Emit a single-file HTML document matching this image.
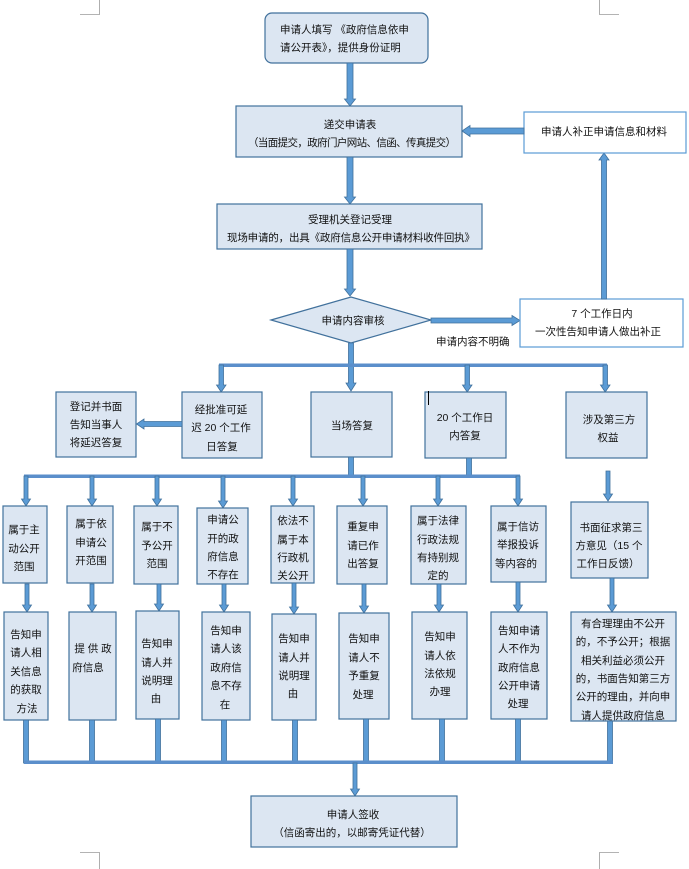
<!DOCTYPE html>
<html><head><meta charset="utf-8">
<style>
html,body{margin:0;padding:0;background:#fff;}
svg{display:block;}
text{font-family:"Liberation Sans","Noto Sans CJK SC",sans-serif;font-size:10.5px;fill:#111;}
.b{fill:#dce6f2;stroke:#41719c;stroke-width:1.2;}
.w{fill:#fff;stroke:#5b9bd5;stroke-width:1.2;}
.a{fill:#5b9bd5;stroke:#41719c;stroke-width:0.8;}
.l{fill:#5b8fcb;}
.c{stroke:#9a9a9a;stroke-width:0.8;fill:none;}
</style></head>
<body>
<svg width="689" height="869" viewBox="0 0 689 869" xmlns="http://www.w3.org/2000/svg">
<!-- crop marks -->
<path class="c" d="M80 14.5H99.5V0M599.5 0V14.5H619M80 852.5H99.5V869M599.5 869V852.5H619"/>

<!-- top box -->
<rect class="b" x="265" y="13" width="163" height="50" rx="7"/>
<text x="280" y="33">申请人填写 《政府信息依申</text>
<text x="280" y="51">请公开表》，提供身份证明</text>

<!-- arrow 1 -->
<polygon class="a" points="347,63 353,63 353,99 355.5,99 350,106 344.5,99 347,99"/>

<!-- box 2 -->
<rect class="b" x="236" y="106" width="226" height="51"/>
<text x="350" y="128" text-anchor="middle">递交申请表</text>
<text x="352" y="146" text-anchor="middle" textLength="208">（当面提交，政府门户网站、信函、传真提交）</text>

<!-- arrow 2 -->
<polygon class="a" points="347,157 353,157 353,197 355.5,197 350,204 344.5,197 347,197"/>

<!-- box 3 -->
<rect class="b" x="217" y="204" width="265" height="45"/>
<text x="350" y="223" text-anchor="middle">受理机关登记受理</text>
<text x="351" y="241" text-anchor="middle" textLength="248">现场申请的，出具《政府信息公开申请材料收件回执》</text>

<!-- arrow 3 -->
<polygon class="a" points="347,249 353,249 353,289 355.5,289 350,296 344.5,289 347,289"/>

<!-- diamond -->
<polygon class="b" points="271,320 351,297 431,320 351,343"/>
<text x="353" y="324" text-anchor="middle">申请内容审核</text>

<!-- right arrow to 7 days box -->
<polygon class="a" points="431,318 512,318 512,315.5 520,320.5 512,325.5 512,323 431,323"/>
<text x="436" y="345">申请内容不明确</text>

<!-- 7 day box -->
<rect class="w" x="520" y="299" width="163" height="48"/>
<text x="602" y="317" text-anchor="middle">7 个工作日内</text>
<text x="598" y="335" text-anchor="middle">一次性告知申请人做出补正</text>

<!-- up arrow -->
<polygon class="a" points="601.5,299 606.5,299 606.5,160 609,160 604,153 599,160 601.5,160"/>

<!-- 补正 box -->
<rect class="w" x="524" y="112" width="162" height="41"/>
<text x="604" y="135" text-anchor="middle">申请人补正申请信息和材料</text>

<!-- left arrow to box 2 -->
<polygon class="a" points="524,128 470,128 470,125.5 462,131 470,136.5 470,134 524,134"/>

<!-- diamond down arrow -->
<polygon class="a" points="348.5,343 353.5,343 353.5,383 356,383 351,391 346,383 348.5,383"/>

<!-- bus 1 -->
<rect class="l" x="219" y="363.5" width="388" height="3.5"/>
<polygon class="a" points="219,365 223.5,365 223.5,385 226,385 221.2,392 216.5,385 219,385"/>
<polygon class="a" points="465,365 469.5,365 469.5,385 472,385 467.2,392 462.5,385 465,385"/>
<polygon class="a" points="603,365 607.5,365 607.5,385 610,385 605.2,392 600.5,385 603,385"/>

<!-- row 2 boxes -->
<rect class="b" x="56" y="392" width="80" height="65"/>
<text x="96" y="410" text-anchor="middle">登记并书面</text>
<text x="96" y="428" text-anchor="middle">告知当事人</text>
<text x="96" y="446" text-anchor="middle">将延迟答复</text>

<rect class="b" x="182" y="392" width="80" height="66"/>
<text x="221" y="413" text-anchor="middle">经批准可延</text>
<text x="221" y="431" text-anchor="middle">迟 20 个工作</text>
<text x="222" y="450" text-anchor="middle">日答复</text>

<polygon class="a" points="182,421.5 144,421.5 144,419 136.5,424 144,429 144,426.5 182,426.5"/>

<rect class="b" x="311" y="392" width="81" height="65"/>
<text x="352" y="429" text-anchor="middle">当场答复</text>

<rect class="b" x="425" y="392" width="81" height="66"/>
<line x1="428.5" y1="391" x2="428.5" y2="405" stroke="#000" stroke-width="1"/>
<text x="465" y="421" text-anchor="middle">20 个工作日</text>
<text x="465" y="439" text-anchor="middle">内答复</text>

<rect class="b" x="566" y="392" width="81" height="66"/>
<text x="609" y="423" text-anchor="middle">涉及第三方</text>
<text x="608" y="441" text-anchor="middle">权益</text>

<!-- stems to bus 2 -->
<rect class="a" x="348.5" y="457" width="5" height="20"/>
<rect class="a" x="466.5" y="458" width="5" height="19"/>

<!-- bus 2 -->
<rect class="l" x="24" y="474.5" width="496" height="3.5"/>

<!-- arrows bus2 -> row3 -->
<polygon class="a" points="24,476 28,476 28,499 30.5,499 26,506 21.5,499 24,499"/>
<polygon class="a" points="90,476 94,476 94,499 96.5,499 92,506 87.5,499 90,499"/>
<polygon class="a" points="155,476 159,476 159,499 161.5,499 157,506 152.5,499 155,499"/>
<polygon class="a" points="221,476 225,476 225,501 227.5,501 223,508 218.5,501 221,501"/>
<polygon class="a" points="291,476 295,476 295,499 297.5,499 293,506 288.5,499 291,499"/>
<polygon class="a" points="361,476 365,476 365,499 367.5,499 363,506 358.5,499 361,499"/>
<polygon class="a" points="436,476 440,476 440,499 442.5,499 438,506 433.5,499 436,499"/>
<polygon class="a" points="516,476 520,476 520,499 522.5,499 518,506 513.5,499 516,499"/>

<!-- 涉及 -> 书面 -->
<polygon class="a" points="606,471 610,471 610,494 612.5,494 608,501 603.5,494 606,494"/>

<!-- row 3 boxes -->
<rect class="b" x="3" y="506" width="44" height="77"/>
<text x="24" y="533" text-anchor="middle">属于主</text>
<text x="24" y="552" text-anchor="middle">动公开</text>
<text x="24" y="570" text-anchor="middle">范围</text>

<rect class="b" x="67" y="506" width="46" height="77"/>
<text x="91" y="527" text-anchor="middle">属于依</text>
<text x="91" y="546" text-anchor="middle">申请公</text>
<text x="91" y="564" text-anchor="middle">开范围</text>

<rect class="b" x="134" y="506" width="44" height="78"/>
<text x="157" y="530" text-anchor="middle">属于不</text>
<text x="157" y="549" text-anchor="middle">予公开</text>
<text x="157" y="567" text-anchor="middle">范围</text>

<rect class="b" x="197" y="508" width="51" height="76"/>
<text x="223" y="523" text-anchor="middle">申请公</text>
<text x="223" y="542" text-anchor="middle">开的政</text>
<text x="223" y="560" text-anchor="middle">府信息</text>
<text x="223" y="578" text-anchor="middle">不存在</text>

<rect class="b" x="271" y="506" width="43" height="77"/>
<text x="293" y="524" text-anchor="middle">依法不</text>
<text x="293" y="543" text-anchor="middle">属于本</text>
<text x="293" y="561" text-anchor="middle">行政机</text>
<text x="293" y="579" text-anchor="middle">关公开</text>

<rect class="b" x="337" y="506" width="50" height="78"/>
<text x="363" y="530" text-anchor="middle">重复申</text>
<text x="363" y="549" text-anchor="middle">请已作</text>
<text x="363" y="567" text-anchor="middle">出答复</text>

<rect class="b" x="411" y="506" width="55" height="78"/>
<text x="438" y="524" text-anchor="middle">属于法律</text>
<text x="438" y="543" text-anchor="middle">行政法规</text>
<text x="438" y="561" text-anchor="middle">有持别规</text>
<text x="438" y="579" text-anchor="middle">定的</text>

<rect class="b" x="491" y="506" width="55" height="76"/>
<text x="518" y="530" text-anchor="middle">属于信访</text>
<text x="518" y="548" text-anchor="middle">举报投诉</text>
<text x="516" y="567" text-anchor="middle">等内容的</text>

<rect class="b" x="571" y="502" width="77" height="76"/>
<text x="611" y="531" text-anchor="middle">书面征求第三</text>
<text x="609" y="549" text-anchor="middle">方意见（15 个</text>
<text x="608" y="567" text-anchor="middle">工作日反馈）</text>

<!-- arrows row3 -> row4 -->
<polygon class="a" points="25,584 29,584 29,605 31.5,605 27,612 22.5,605 25,605"/>
<polygon class="a" points="90,584 94,584 94,605 96.5,605 92,612 87.5,605 90,605"/>
<polygon class="a" points="157,584 161,584 161,604 163.5,604 159,611 154.5,604 157,604"/>
<polygon class="a" points="222,584 226,584 226,605 228.5,605 224,612 219.5,605 222,605"/>
<polygon class="a" points="292,583 296,583 296,607 298.5,607 294,614 289.5,607 292,607"/>
<polygon class="a" points="362,584 366,584 366,606 368.5,606 364,613 359.5,606 362,606"/>
<polygon class="a" points="437,584 441,584 441,605 443.5,605 439,612 434.5,605 437,605"/>
<polygon class="a" points="516,582 520,582 520,605 522.5,605 518,612 513.5,605 516,605"/>
<polygon class="a" points="610,578 614,578 614,605 616.5,605 612,612 607.5,605 610,605"/>

<!-- row 4 boxes -->
<rect class="b" x="4" y="612" width="44" height="108"/>
<text x="26" y="638" text-anchor="middle">告知申</text>
<text x="26" y="656" text-anchor="middle">请人相</text>
<text x="26" y="675" text-anchor="middle">关信息</text>
<text x="26" y="693" text-anchor="middle">的获取</text>
<text x="27" y="712" text-anchor="middle">方法</text>

<rect class="b" x="69" y="612" width="47" height="108"/>
<text x="93" y="652" text-anchor="middle">提 供 政</text>
<text x="88" y="671" text-anchor="middle">府信息</text>

<rect class="b" x="136" y="611" width="43" height="108"/>
<text x="157" y="647" text-anchor="middle">告知申</text>
<text x="157" y="666" text-anchor="middle">请人并</text>
<text x="157" y="684" text-anchor="middle">说明理</text>
<text x="156" y="702" text-anchor="middle">由</text>

<rect class="b" x="202" y="612" width="48" height="108"/>
<text x="226" y="634" text-anchor="middle">告知申</text>
<text x="226" y="652" text-anchor="middle">请人该</text>
<text x="226" y="671" text-anchor="middle">政府信</text>
<text x="226" y="689" text-anchor="middle">息不存</text>
<text x="225" y="708" text-anchor="middle">在</text>

<rect class="b" x="272" y="614" width="44" height="106"/>
<text x="294" y="642" text-anchor="middle">告知申</text>
<text x="294" y="661" text-anchor="middle">请人并</text>
<text x="294" y="679" text-anchor="middle">说明理</text>
<text x="293" y="697" text-anchor="middle">由</text>

<rect class="b" x="339" y="613" width="50" height="106"/>
<text x="364" y="642" text-anchor="middle">告知申</text>
<text x="364" y="661" text-anchor="middle">请人不</text>
<text x="364" y="679" text-anchor="middle">予重复</text>
<text x="363" y="698" text-anchor="middle">处理</text>

<rect class="b" x="412" y="612" width="55" height="107"/>
<text x="440" y="640" text-anchor="middle">告知申</text>
<text x="440" y="659" text-anchor="middle">请人依</text>
<text x="440" y="677" text-anchor="middle">法依规</text>
<text x="440" y="695" text-anchor="middle">办理</text>

<rect class="b" x="491" y="612" width="56" height="107"/>
<text x="519" y="634" text-anchor="middle">告知申请</text>
<text x="519" y="652" text-anchor="middle">人不作为</text>
<text x="519" y="671" text-anchor="middle">政府信息</text>
<text x="519" y="689" text-anchor="middle">公开申请</text>
<text x="518" y="707" text-anchor="middle">处理</text>

<rect class="b" x="571" y="612" width="105" height="109"/>
<text x="623" y="627" text-anchor="middle">有合理理由不公开</text>
<text x="623" y="645" text-anchor="middle">的，不予公开；根据</text>
<text x="623" y="664" text-anchor="middle">相关利益必须公开</text>
<text x="623" y="682" text-anchor="middle">的，书面告知第三方</text>
<text x="623" y="700" text-anchor="middle">公开的理由，并向申</text>
<text x="623" y="719" text-anchor="middle">请人提供政府信息</text>

<!-- bottom stems -->
<rect class="a" x="23.5" y="720" width="5" height="43"/>
<rect class="a" x="89.5" y="720" width="5" height="43"/>
<rect class="a" x="155.5" y="719" width="5" height="44"/>
<rect class="a" x="221.5" y="720" width="5" height="43"/>
<rect class="a" x="292.5" y="720" width="5" height="43"/>
<rect class="a" x="363.5" y="719" width="5" height="44"/>
<rect class="a" x="439.5" y="719" width="5" height="44"/>
<rect class="a" x="515.5" y="719" width="5" height="44"/>
<rect class="a" x="607.5" y="721" width="5" height="42"/>

<!-- bus 3 -->
<rect class="l" x="24" y="760.5" width="589" height="3.5"/>

<!-- final arrow -->
<polygon class="a" points="353,763 357,763 357,789 359.5,789 355,796 350.5,789 353,789"/>

<!-- final box -->
<rect class="b" x="251" y="796" width="206" height="51"/>
<text x="353" y="818" text-anchor="middle">申请人签收</text>
<text x="352" y="836" text-anchor="middle">（信函寄出的，以邮寄凭证代替）</text>
</svg>
</body></html>
